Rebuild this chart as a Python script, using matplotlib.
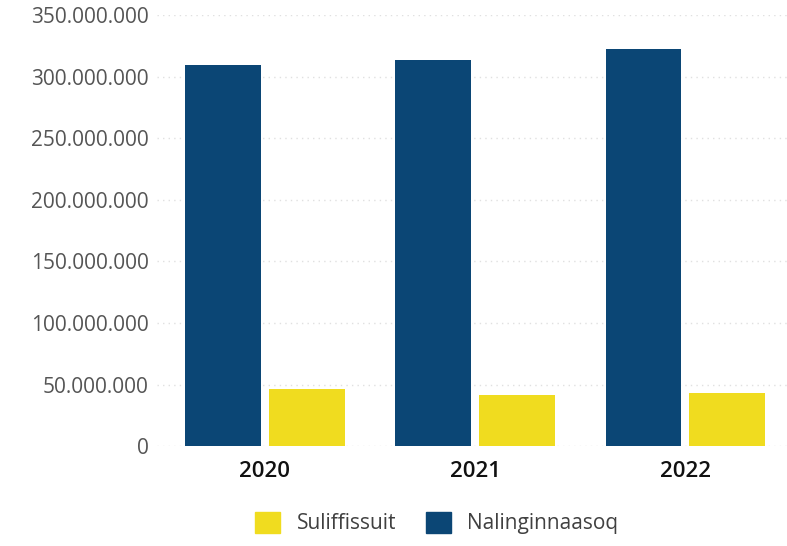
import matplotlib.pyplot as plt
import numpy as np
from matplotlib.patches import Patch

aar = ["2020", "2021", "2022"]
nalinginnaasoq = [309500000, 313500000, 322500000]
suliffissuit = [46200000, 41500000, 42900000]

blaa = "#0B4675"
gul = "#F0DC1F"

fig = plt.figure(figsize=(7.87, 5.46), dpi=100)
ax = fig.add_axes([0.1995, 0.183, 0.8005, 0.7895])

x = np.arange(len(aar))
b = 0.361
ax.bar(x - b / 2 - 0.019, nalinginnaasoq, width=b, color=blaa, zorder=3)
ax.bar(x + b / 2 + 0.019, suliffissuit, width=b, color=gul, zorder=3)

ax.set_xlim(-0.513, 2.483)
ax.set_ylim(0, 350000000)
ticks = np.arange(0, 350000001, 50000000)
ax.set_yticks(ticks)
ax.set_yticklabels([f"{int(t):,}".replace(",", ".") for t in ticks],
                   fontsize=15, color="#555555", family="Open Sans")
ax.set_xticks(x)
ax.set_xticklabels(aar, fontsize=16, color="#111111", family="Open Sans", fontweight="semibold")
ax.tick_params(axis="y", length=0, pad=6)
ax.tick_params(axis="x", length=0, pad=11)

ax.grid(axis="y", color="#e0e0e0", linestyle=(0, (1, 3)), linewidth=1, zorder=0)
for s in ax.spines.values():
    s.set_visible(False)

handles = [Patch(color=gul, label="Suliffissuit"), Patch(color=blaa, label="Nalinginnaasoq")]
fig.legend(handles=handles, loc="center", bbox_to_anchor=(0.555, 0.042), ncol=2, frameon=False,
           prop={"family": "Open Sans", "size": 15}, labelcolor="#404040",
           handlelength=1.2, handleheight=1.2, handletextpad=0.8, columnspacing=1.4)

plt.savefig("out.png", dpi=100)
